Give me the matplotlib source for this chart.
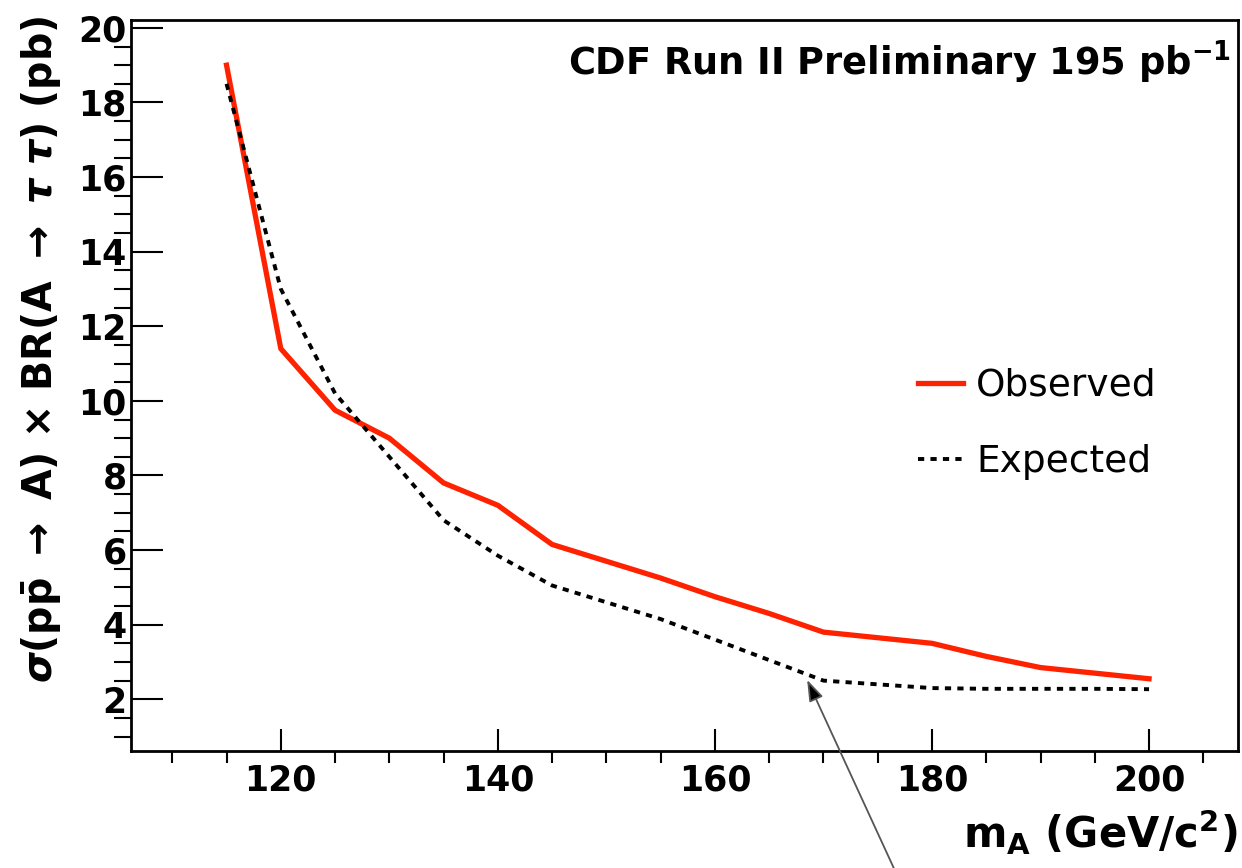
import matplotlib
matplotlib.use("Agg")
import matplotlib.pyplot as plt
from matplotlib.ticker import MultipleLocator

# limits
mass = [115, 120, 125, 130, 135, 140, 145, 150, 155, 160, 165, 170, 175, 180, 185, 190, 195, 200]
observed = [19.0, 11.4, 9.75, 9.0, 7.8, 7.2, 6.15, 5.7, 5.25, 4.75, 4.3, 3.8, 3.65, 3.5, 3.15, 2.85, 2.7, 2.55]
expected = [18.5, 13.0, 10.2, 8.5, 6.8, 5.85, 5.05, 4.6, 4.15, 3.6, 3.05, 2.5, 2.4, 2.3, 2.28, 2.28, 2.28, 2.27]
labels = ["Observed", "Expected"]
x_ticks = [120, 140, 160, 180, 200]
y_ticks = [2, 4, 6, 8, 10, 12, 14, 16, 18, 20]

# annotation arrow (tip near the expected kink, tail below the frame)
arrow_tip = (168.5, 2.52)
arrow_tail = (176.6, -2.6)

plt.rcParams['font.family'] = ['DejaVu Sans']
plt.rcParams['font.weight'] = 'bold'
plt.rcParams['mathtext.fontset'] = 'dejavusans'

fig = plt.figure(figsize=(12.42, 8.68), dpi=100)
ax = fig.add_axes([0.1055, 0.1351, 0.8913, 0.8418])

ax.plot(mass, observed, color='#ff2200', lw=3.8, label=labels[0])
ax.plot(mass, expected, color='black', lw=2.8, ls=(0, (1.6, 1.6)), label=labels[1])

ax.set_xlim(106.2, 208.2)
ax.set_ylim(0.62, 20.21)
ax.set_xticks(x_ticks)
ax.set_yticks(y_ticks)
ax.xaxis.set_minor_locator(MultipleLocator(5))
ax.yaxis.set_minor_locator(MultipleLocator(0.5))
ax.tick_params(axis='both', direction='in', top=False, right=False, labelsize=25, width=1.5)
ax.tick_params(axis='x', which='major', length=16, pad=9)
ax.tick_params(axis='x', which='minor', length=8.5, width=1.5)
ax.tick_params(axis='y', which='major', length=23, pad=3)
ax.tick_params(axis='y', which='minor', length=12, width=1.5)
for s in ax.spines.values():
    s.set_linewidth(2)

fig.text(1238 / 1242, 1 - 848 / 868, r"m$_{\mathbf{A}}$ (GeV/c$^{\mathbf{2}}$)",
         ha='right', va='baseline', fontsize=30)
fig.text(42 / 1242, 1 - 16 / 868,
         r"$\sigma$(p$\bar{\mathbf{p}}$ $\rightarrow$ A) $\times$ BR(A $\rightarrow$ $\tau$ $\tau$) (pb)",
         rotation=90, ha='center', va='top', fontsize=28.5)

ax.text(0.9935, 0.975, r"CDF Run II Preliminary 195 pb$^{\mathbf{-1}}$", transform=ax.transAxes,
        ha='right', va='top', fontsize=26.5)

ax.legend(loc='upper left', bbox_to_anchor=(918 / 1242, 1 - 368 / 868), bbox_transform=fig.transFigure,
          frameon=False, prop={'weight': 'normal', 'size': 27}, handlelength=1.2,
          handletextpad=0.35, labelspacing=1.07, borderpad=0, borderaxespad=0)

ax.annotate("", xy=arrow_tip, xytext=arrow_tail, annotation_clip=False,
            arrowprops=dict(arrowstyle='-|>,head_length=1.3,head_width=0.45', color='#555555',
                            lw=1.3, shrinkA=0, shrinkB=0, fc='black', ec='#555555'))

fig.savefig("out.png", dpi=100)
